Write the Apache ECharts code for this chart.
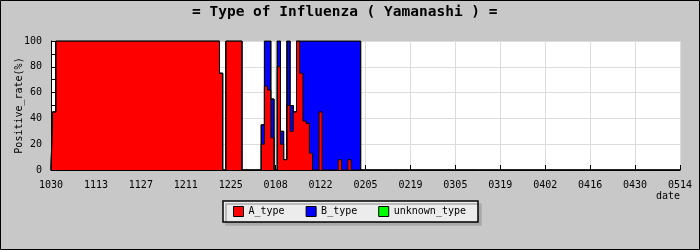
<!DOCTYPE html>
<html>
<head>
<meta charset="utf-8">
<script src="https://cdn.jsdelivr.net/npm/echarts@6/dist/echarts.min.js"></script>
<style>
  html, body { margin: 0; padding: 0; background: #c8c8c8; }
  #chart { width: 700px; height: 250px; }
</style>
</head>
<body>
<div id="chart"></div>
<script>
// Daily dates from 10/30 to 05/14 (197 days), labelled MMDD
const startDate = [2010, 9, 30];   // year, month(0-based), day
const dayCount = 197;
const categories = [];
for (let i = 0; i < dayCount; i++) {
  const d = new Date(Date.UTC(startDate[0], startDate[1], startDate[2] + i));
  const mm = String(d.getUTCMonth() + 1).padStart(2, '0');
  const dd = String(d.getUTCDate()).padStart(2, '0');
  categories.push(mm + dd);
}

// Positive rate (%) per day, one row = 14 days
const A_type = [
  0, 45, 100, 100, 100, 100, 100, 100, 100, 100, 100, 100, 100, 100,
  100, 100, 100, 100, 100, 100, 100, 100, 100, 100, 100, 100, 100, 100,
  100, 100, 100, 100, 100, 100, 100, 100, 100, 100, 100, 100, 100, 100,
  100, 100, 100, 100, 100, 100, 100, 100, 100, 100, 100, 75, 0, 100,
  100, 100, 100, 100, 0, 0, 0, 0, 0, 0, 20, 65, 62, 25,
  0, 80, 20, 8, 50, 30, 45, 100, 75, 38, 36, 13, 0, 0,
  45, 0, 0, 0, 0, 0, 8, 0, 0, 8, 0, 0, 0, 0,
  0, 0, 0, 0, 0, 0, 0, 0, 0, 0, 0, 0, 0, 0,
  0, 0, 0, 0, 0, 0, 0, 0, 0, 0, 0, 0, 0, 0,
  0, 0, 0, 0, 0, 0, 0, 0, 0, 0, 0, 0, 0, 0,
  0, 0, 0, 0, 0, 0, 0, 0, 0, 0, 0, 0, 0, 0,
  0, 0, 0, 0, 0, 0, 0, 0, 0, 0, 0, 0, 0, 0,
  0, 0, 0, 0, 0, 0, 0, 0, 0, 0, 0, 0, 0, 0,
  0, 0, 0, 0, 0, 0, 0, 0, 0, 0, 0, 0, 0, 0,
  0
];
const B_type = [
  0, 0, 0, 0, 0, 0, 0, 0, 0, 0, 0, 0, 0, 0,
  0, 0, 0, 0, 0, 0, 0, 0, 0, 0, 0, 0, 0, 0,
  0, 0, 0, 0, 0, 0, 0, 0, 0, 0, 0, 0, 0, 0,
  0, 0, 0, 0, 0, 0, 0, 0, 0, 0, 0, 0, 0, 0,
  0, 0, 0, 0, 0, 0, 0, 0, 0, 0, 15, 35, 38, 30,
  0, 20, 10, 0, 50, 20, 0, 0, 25, 62, 64, 87, 100, 100,
  55, 100, 100, 100, 100, 100, 92, 100, 100, 92, 100, 100, 100, 0,
  0, 0, 0, 0, 0, 0, 0, 0, 0, 0, 0, 0, 0, 0,
  0, 0, 0, 0, 0, 0, 0, 0, 0, 0, 0, 0, 0, 0,
  0, 0, 0, 0, 0, 0, 0, 0, 0, 0, 0, 0, 0, 0,
  0, 0, 0, 0, 0, 0, 0, 0, 0, 0, 0, 0, 0, 0,
  0, 0, 0, 0, 0, 0, 0, 0, 0, 0, 0, 0, 0, 0,
  0, 0, 0, 0, 0, 0, 0, 0, 0, 0, 0, 0, 0, 0,
  0, 0, 0, 0, 0, 0, 0, 0, 0, 0, 0, 0, 0, 0,
  0
];
const unknown_type = [
  0, 0, 0, 0, 0, 0, 0, 0, 0, 0, 0, 0, 0, 0,
  0, 0, 0, 0, 0, 0, 0, 0, 0, 0, 0, 0, 0, 0,
  0, 0, 0, 0, 0, 0, 0, 0, 0, 0, 0, 0, 0, 0,
  0, 0, 0, 0, 0, 0, 0, 0, 0, 0, 0, 0, 0, 0,
  0, 0, 0, 0, 0, 0, 0, 0, 0, 0, 0, 0, 0, 0,
  0, 0, 0, 0, 0, 0, 0, 0, 0, 0, 0, 0, 0, 0,
  0, 0, 0, 0, 0, 0, 0, 0, 0, 0, 0, 0, 0, 0,
  0, 0, 0, 0, 0, 0, 0, 0, 0, 0, 0, 0, 0, 0,
  0, 0, 0, 0, 0, 0, 0, 0, 0, 0, 0, 0, 0, 0,
  0, 0, 0, 0, 0, 0, 0, 0, 0, 0, 0, 0, 0, 0,
  0, 0, 0, 0, 0, 0, 0, 0, 0, 0, 0, 0, 0, 0,
  0, 0, 0, 0, 0, 0, 0, 0, 0, 0, 0, 0, 0, 0,
  0, 0, 0, 0, 0, 0, 0, 0, 0, 0, 0, 0, 0, 0,
  0, 0, 0, 0, 0, 0, 0, 0, 0, 0, 0, 0, 0, 0,
  0
];
const seriesNames = ['A_type', 'B_type', 'unknown_type'];
const seriesColors = ['#ff0000', '#0000ff', '#00ff00'];
const seriesData = [A_type, B_type, unknown_type];

const FONT = 'DejaVu Sans Mono';
const chart = echarts.init(document.getElementById('chart'), null, { renderer: 'canvas' });

chart.setOption({
  animation: false,
  backgroundColor: '#c8c8c8',
  title: {
    text: '= Type of Influenza ( Yamanashi ) =',
    left: 192,
    top: 5,
    padding: 0,
    textStyle: { fontFamily: FONT, fontSize: 14.5, fontWeight: 'bold', color: '#000' }
  },
  legend: {
    data: seriesNames.map((n, i) => ({ name: n, itemStyle: { color: seriesColors[i], borderColor: '#000', borderWidth: 1 } })),
    left: 223,
    top: 201,
    icon: 'rect',
    itemWidth: 10,
    itemHeight: 10,
    itemGap: 21,
    padding: [5, 12, 5, 10],
    backgroundColor: '#ececec',
    borderColor: '#000',
    borderWidth: 1.5,
    shadowColor: '#a9a9a9',
    shadowBlur: 0,
    shadowOffsetX: 3,
    shadowOffsetY: 3,
    textStyle: { fontFamily: FONT, fontSize: 10, color: '#000' }
  },
  grid: {
    left: 51, right: 20, top: 41, bottom: 80,
    containLabel: false,
    outerBoundsMode: 'none',
    show: true, backgroundColor: '#ffffff', borderWidth: 0
  },
  xAxis: {
    type: 'category',
    data: categories,
    boundaryGap: false,
    name: 'date',
    nameLocation: 'end',
    nameGap: 0,
    nameMoveOverlap: false,
    nameTextStyle: { fontFamily: FONT, fontSize: 10, color: '#000', align: 'right', verticalAlign: 'top', padding: [21, 0, 0, 0] },
    axisLine: { lineStyle: { color: '#000', width: 1 } },
    axisTick: { show: true, inside: true, length: 5, interval: 13, lineStyle: { color: '#000' } },
    axisLabel: { interval: 13, margin: 10, fontFamily: FONT, fontSize: 10, color: '#000' },
    splitLine: { show: true, interval: 13, lineStyle: { color: '#dcdcdc', width: 1 } }
  },
  yAxis: {
    type: 'value',
    min: 0, max: 100, interval: 20,
    name: 'Positive_rate(%)',
    nameLocation: 'middle',
    nameGap: 27,
    nameMoveOverlap: false,
    nameTextStyle: { fontFamily: FONT, fontSize: 10, color: '#000' },
    axisLine: { show: true, lineStyle: { color: '#000', width: 1 } },
    axisTick: { show: true, inside: true, length: 4, lineStyle: { color: '#000' } },
    minorTick: { show: true, splitNumber: 2, length: 4, lineStyle: { color: '#000' } },
    axisLabel: { margin: 9, fontFamily: FONT, fontSize: 10, color: '#000' },
    splitLine: { show: true, lineStyle: { color: '#dcdcdc', width: 1 } }
  },
  graphic: [{
    type: 'rect',
    silent: true,
    z: 100,
    shape: { x: 0.5, y: 0.5, width: 699, height: 249 },
    style: { fill: 'none', stroke: '#000', lineWidth: 1 }
  }],
  series: seriesNames.map((n, i) => ({
    name: n,
    type: 'line',
    stack: 'total',
    step: 'middle',
    data: seriesData[i],
    symbol: 'none',
    z: i === 2 ? 6 : 4 - i,
    itemStyle: { color: seriesColors[i] },
    lineStyle: { color: '#000', width: 1 },
    areaStyle: i === 2 ? undefined : { color: seriesColors[i], opacity: 1 },
    emphasis: { disabled: true }
  }))
});
</script>
</body>
</html>
